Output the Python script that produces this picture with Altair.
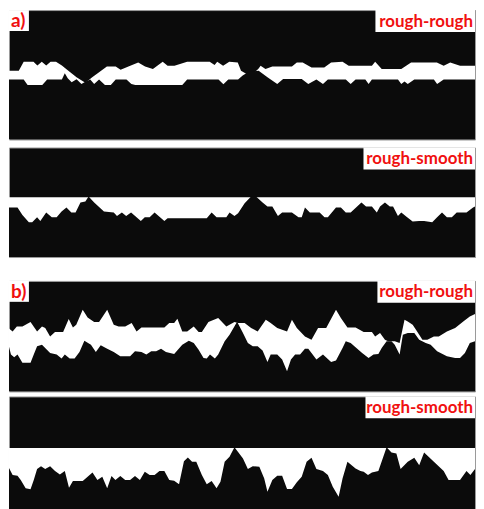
import altair as alt
import pandas as pd

RED = "#f01010"
BLACK = "#0b0b0b"
FONT = "Lato"
L = 476        # profile length (distance units)
PW = 468       # panel width in px

# ---------- a) rough-rough ----------
a_rr_top_x = [0,10,15,25,29,33.5,38,42.5,48,54,60,69,78,85,92,100,109,114,122,132,
              139,147,157,162,169,182,205,210,212.7,218.7,225,233.7,237,244,250,255,257,262,269,289,
              294,300,309,322,329,340.7,347,370.7,374,380.7,400.7,410.7,437,444,450.7,460.7,476]
a_rr_top_d = [61.3,61.3,52.3,52.3,56,52.3,56,52.3,52.3,56,61,68,73.5,68,63,57,57,60.3,57,53,
              57,59.7,52.3,56.3,56.3,52.3,52.3,55.7,52.3,56.3,52.3,53,61.3,65.5,64,59,56.3,59.7,57,57,
              53,53,58,58,53,52.3,56.3,56.3,52.3,59.7,59.7,53,53,56.3,53,56.3,56.3]
a_rr_bot_x = [0,15,19,34,39,54,57,60,64,69,74,78,83,87,92,98,104,109,120,125,
              129,177,182,214,219,224,234,238.7,244,250,255,264,274,280,299,305.7,314,320.7,325.7,344,
              349,354,364,367.3,370.7,397.3,400.7,404,407.3,414,434,437.3,444,476]
a_rr_bot_d = [70.3,70.3,75.7,75.7,70.3,70.3,64,69,73,70,74.7,72.5,70.3,74.7,70.3,75.7,75.7,70.3,70.3,74.7,
              75.7,75.7,70.3,70.3,75,70.3,70.3,66.3,63,62,61.3,68,74.7,69.7,69.7,74.7,70.3,74.7,70.3,70.3,
              74.7,70.3,70.3,74.7,70.3,70.3,74.7,72.3,74.7,70.3,70.3,74.7,70.3,70.3]

# ---------- a) rough-smooth ----------
a_rs_top_x = [0, 476]
a_rs_top_d = [50, 50]
a_rs_bot_x = [0,8.7,13.7,20.3,23.7,28.7,32,38,43.7,48.7,53.7,58.7,63.7,68,73,78,81.3,87,97,107,
              110.3,115.3,119.7,124.7,134.7,138.7,143.7,148.7,158.7,162,202,207,212,222,225.3,230.3,234,240.7,247.3,252.3,
              259,264,269,274.7,279,289,295.7,299,302.3,307.3,317.3,322.3,325.7,334,339,344,349,360,364.7,370.7,
              375.7,379,384,389,392.3,397.3,400.7,406.7,412.3,419,424,432.3,437.3,442.3,447.3,452.3,457.3,467.3,474,476]
a_rs_bot_d = [60.3,60.3,67.7,75,75,70,73.7,65.3,70,70,64.3,60.3,65.3,65.3,55.3,54.3,49.3,55.3,64.3,65.3,
              68.7,65.3,68.7,65.3,73.7,70,70,65.3,73.7,71,71,65.3,70,70,65.3,68.7,66,56,49.3,49.3,
              55.3,59.3,59.3,68.7,65.3,65.3,70,70,60.3,65.3,65.3,70,70,60.3,60.3,65.3,65.3,55.3,59.3,59.3,
              65.3,59.3,55.3,59.3,59.3,68.7,65.3,70,74.3,73.7,73.7,75,70,65.3,70,70,65.3,65.3,60.3,59.3]

# ---------- b) rough-rough ----------
b_rr_top_x = [0,3.7,8,13.7,22,28.7,33.7,37,42,47,55.3,61,65.3,68.7,75.3,80.3,87,92,100.3,107,
              112,118.7,125.3,130.3,135.3,158.7,163.7,168.7,172,177,182,188.7,193.7,197,203.7,213.7,222,230.3,234,240.7,
              247.3,254,262.3,267.3,274,284,289,294,302.3,309,315.7,324,334,339,345.7,354,362.3,370.7,374,379,
              384,387.3,394,399,404,407.3,412.3,415.7,422.3,427.3,434,439,447.3,455.7,464,470.7,476]
b_rr_top_d = [47.7,50.7,45.7,45.7,41.3,50.7,45.7,47.3,55.7,51.3,51.3,38.3,46.7,44,29,36.7,41.3,41.3,29,44,
              45.7,45.7,42.3,50.7,46.7,46.7,42.3,42.3,38,50.7,50.7,45.7,51.3,51.3,41.3,37.3,45.7,41.3,42.3,42.3,
              47.3,50.7,39,42.3,47.3,50.7,39,47.3,55.7,59,47.3,47.3,29,37.3,46.7,46.7,51.3,51.3,55.7,52.3,
              59,60.7,60.7,62.3,39,40.7,44,49,59,59,55.7,55.7,50.7,47.3,40.7,35.7,33.3]
b_rr_bot_x = [0,2,5.3,8.7,13.7,22,25.3,28.7,33.7,42,48.7,53.7,57,62,67,72,77,83.7,88.7,93.7,
              100.3,107,113.7,123.7,128.7,135.3,140.3,145.3,150.3,155.3,160.3,168.7,177,183.7,188.7,193.7,198.7,202,205.3,210.3,
              213.7,220.3,225.3,233,239,244,249,254,259,264,267.3,274,279,284,288,292.3,297.3,302.3,305.7,309,
              314,320.7,329,334,340.7,344,349,360.7,367.3,372.3,377.3,380.7,385.7,390.7,394,399,402.3,407.3,414,419,
              425.7,430.7,437.3,447.3,455.7,460.7,465.7,470.7,476]
b_rr_bot_d = [66,74,76.7,74,82.3,82.3,74,65.7,64,72.3,74,78,74,78,78,71.3,60,64,71.3,64.7,
              68,71.3,75.7,75.7,70.7,71.3,74,70.7,70.7,68,71.3,73.3,64,60,62.3,69,77.3,78,74,78,
              74,60.7,54,41,52.3,62.3,65.7,65.7,70,81.3,74,74,79,90.7,79,74,74,68,68,72.3,
              79,74,81.3,80,67.3,60.7,62.3,72.3,77.3,74,73.3,67.3,60.7,60.7,64,74,54,52.3,52.3,59,
              62.3,64,70.7,75.7,77.3,77.3,72.3,62.3,60.7]

# ---------- b) rough-smooth ----------
b_rs_top_x = [0, 476]
b_rs_top_d = [51.7, 51.7]
b_rs_bot_x = [0,3.7,8.7,12,17,22,25.3,28.7,32.7,37,42,47,52,57,61.3,65.3,75.3,80.3,85.3,90.3,
              95.3,100.3,104.7,108.7,113.7,118.7,123.7,128.7,133.7,138.7,143.7,148.7,153.7,158.7,163.7,168.7,173.7,178.7,182.7,187,
              191.3,197,202,207,212,216,220.3,225.3,230.3,234,239,244,249,255.7,260.7,264,269,274,279,284,
              289,294,299,304,309,314,320.7,325.7,330.7,336.7,340.7,345.7,354,359,362.3,366.7,370.7,377.3,385.7,390.7,
              395.7,400,407.3,414,419,424,434,444,449,460.7,467.3,471.3,476]
b_rs_bot_d = [72,79,79.7,84,92.3,93.3,84,73,70,73,70,75,78.3,75,91.7,85,85,80.7,76.3,84,
              80.7,92.3,80,84,80,84,84,80,84,75.7,79,79,75,75,84,84.7,88.3,65,61.3,65.7,
              65.7,79,88.3,85,92.3,85.7,65.7,60.7,51,55.7,62.3,73,70,70.7,82.3,95.7,84,79.7,79.7,93,
              93,86.3,80.7,65.7,61.7,73,75,79,90.7,100.7,82.3,65.7,72.3,75,75.7,79,76.3,75,51,56.3,
              57.3,73,65.7,61.7,69,56.3,65.7,75,84,84,75,79,73]

panel_names = ["a)", "rough-rough", "rough-smooth", "b)", "rough-rough", "rough-smooth"]


def label_box(text, x0, x1, h, align, size):
    src = pd.DataFrame({"t": [text]})
    box = alt.Chart(src).mark_rect(color="white").encode(
        x=alt.value(x0), x2=alt.value(x1), y=alt.value(0), y2=alt.value(h))
    tx = (x0 + 2) if align == "left" else (x1 - 2)
    txt = alt.Chart(src).mark_text(align=align, baseline="middle", fontSize=size,
                                   fontWeight="bold", color=RED, font=FONT).encode(
        x=alt.value(tx), y=alt.value(h / 2 + 0.5), text="t:N")
    return [box, txt]


def panel(tx, td, bx, bd, H, h, right_label, right_w, left_label=None):
    xs = alt.X("x:Q", scale=alt.Scale(domain=[0, L], nice=False, zero=False), axis=None)
    ys = alt.Y("d:Q", scale=alt.Scale(domain=[0, H], nice=False, zero=False, reverse=True), axis=None)
    gap = alt.Chart(pd.DataFrame({"x": tx, "d": td})).mark_area(
        color="white", opacity=1, clip=True).encode(x=xs, y=ys, y2=alt.datum(H))
    lower = alt.Chart(pd.DataFrame({"x": bx, "d": bd})).mark_area(
        color=BLACK, opacity=1, clip=True).encode(x=xs, y=ys, y2=alt.datum(H))
    layers = [gap, lower]
    if left_label:
        layers += label_box(left_label, 0, 20, 21, "left", 19)
    layers += label_box(right_label, PW - right_w, PW, 22, "right", 17)
    return alt.layer(*layers).properties(width=PW, height=h)


p1 = panel(a_rr_top_x, a_rr_top_d, a_rr_bot_x, a_rr_bot_d, 131, 130, panel_names[1], 100, panel_names[0])
p2 = panel(a_rs_top_x, a_rs_top_d, a_rs_bot_x, a_rs_bot_d, 110, 110, panel_names[2], 112)
p3 = panel(b_rr_top_x, b_rr_top_d, b_rr_bot_x, b_rr_bot_d, 111, 111, panel_names[4], 98, panel_names[3])
p4 = panel(b_rs_top_x, b_rs_top_d, b_rs_bot_x, b_rs_bot_d, 119, 119, panel_names[5], 110)

chart = alt.vconcat(
    alt.vconcat(p1, p2, spacing=6),
    alt.vconcat(p3, p4, spacing=3),
    spacing=22,
).properties(padding=0, background="white").configure_view(
    fill=BLACK, stroke="#9a9a9a", strokeWidth=1
)

chart.save("out.html", embed_options={"renderer": "svg", "actions": False})
